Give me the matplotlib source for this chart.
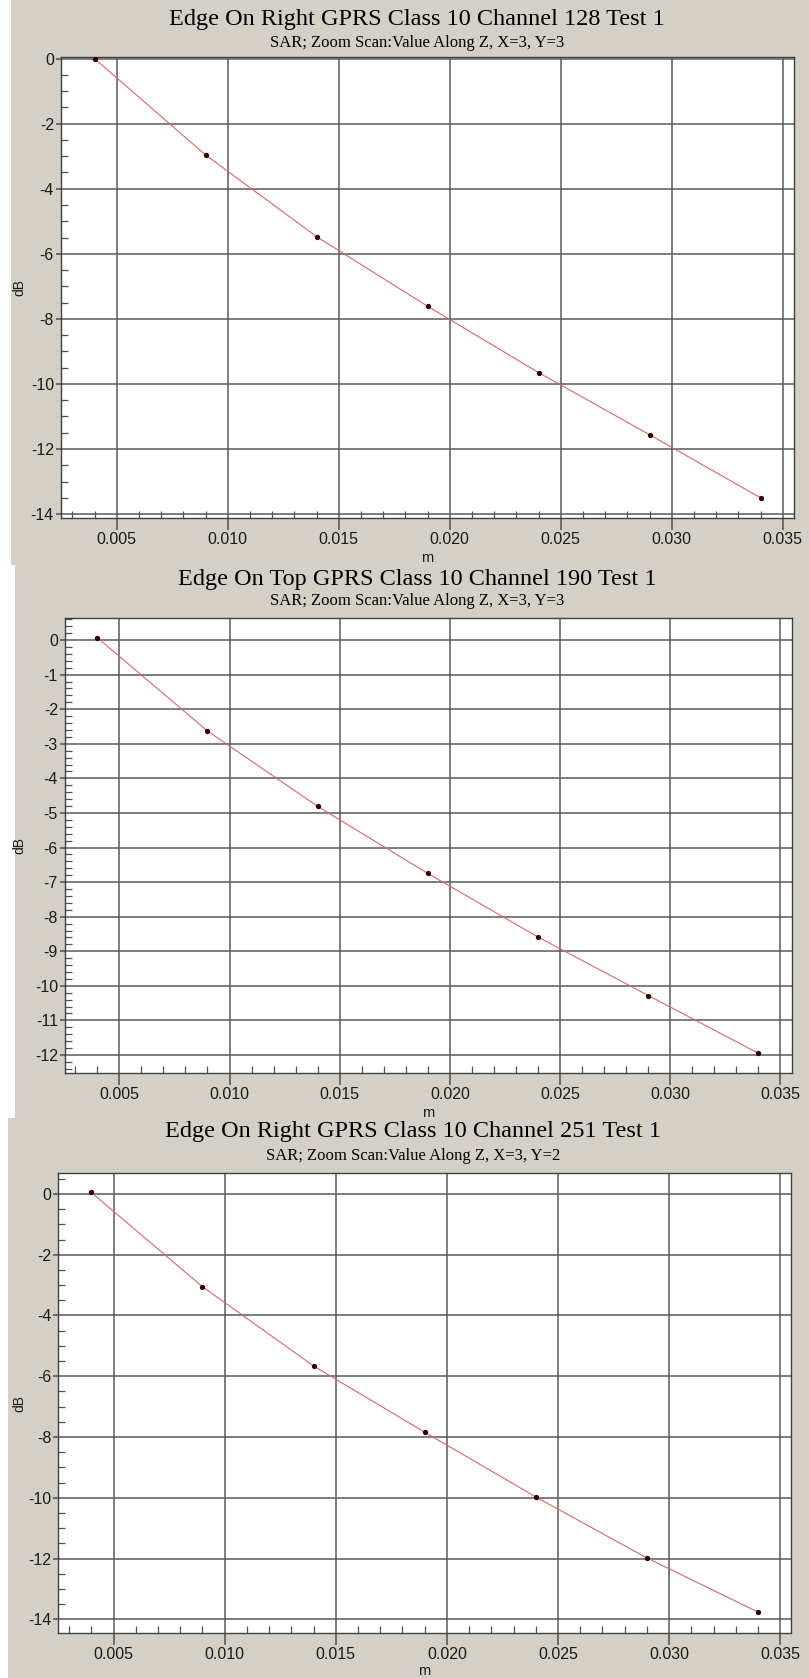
import matplotlib
matplotlib.use("Agg")
import matplotlib.pyplot as plt
from matplotlib.patches import Rectangle
from matplotlib.ticker import MultipleLocator, FormatStrFormatter

# data
depth = [0.004, 0.009, 0.014, 0.019, 0.024, 0.029, 0.034]
ch128 = [0.0, -2.96, -5.47, -7.61, -9.65, -11.56, -13.50]
ch190 = [0.07, -2.63, -4.81, -6.75, -8.59, -10.28, -11.95]
ch251 = [0.05, -3.05, -5.66, -7.84, -9.97, -11.98, -13.76]

titles = ["Edge On Right GPRS Class 10 Channel 128 Test 1",
          "Edge On Top GPRS Class 10 Channel 190 Test 1",
          "Edge On Right GPRS Class 10 Channel 251 Test 1"]
subtitles = ["SAR; Zoom Scan:Value Along Z, X=3, Y=3",
             "SAR; Zoom Scan:Value Along Z, X=3, Y=3",
             "SAR; Zoom Scan:Value Along Z, X=3, Y=2"]
xticks = [0.005, 0.010, 0.015, 0.020, 0.025, 0.030, 0.035]

W, H = 809, 1678
GRAY = "#d4d0c8"

fig = plt.figure(figsize=(W / 100, H / 100), dpi=100)
fig.patch.set_facecolor("white")


def fx(px):
    return px / W


def fy(py):
    return 1 - py / H


# panel layout in pixels: background box, axes box, text rows
panels = [
    dict(bg=(11, 0, 809, 565), ax=(61, 57, 794.3, 518), tx=417, ty=(19, 43),
         xl=558, ylim=(-14.12, 0.05), xlim=(0.00249, 0.03552), major=2, minor=0.5),
    dict(bg=(15, 565, 809, 1118), ax=(65, 618.3, 791.7, 1073.3), tx=417, ty=(579, 601),
         xl=1113, ylim=(-12.53, 0.63), xlim=(0.002534, 0.03551), major=1, minor=0.2),
    dict(bg=(8, 1118, 809, 1678), ax=(58.3, 1173.3, 790.5, 1633.3), tx=413, ty=(1132, 1156),
         xl=1671, ylim=(-14.46, 0.68), xlim=(0.002516, 0.035464), major=2, minor=0.5),
]
series = [ch128, ch190, ch251]

for i, p in enumerate(panels):
    x0, y0, x1, y1 = p["bg"]
    fig.patches.append(Rectangle((fx(x0), fy(y1)), fx(x1 - x0), (y1 - y0) / H,
                                 transform=fig.transFigure, facecolor=GRAY,
                                 edgecolor="none", zorder=-10))
    fig.text(fx(p["tx"]), fy(p["ty"][0]), titles[i], family="Liberation Serif",
             fontsize=17.5, ha="center", va="center", color="black")
    fig.text(fx(p["tx"]), fy(p["ty"][1]), subtitles[i], family="Liberation Serif",
             fontsize=12, ha="center", va="center", color="black")

    l, t, r, b = p["ax"]
    ax = fig.add_axes([fx(l), fy(b), fx(r - l), (b - t) / H])
    ax.set_zorder(5)
    ax.set_facecolor("white")
    ax.plot(depth, series[i], color="#d46a6a", lw=0.8, zorder=3)
    ax.plot(depth, series[i], ls="none", marker="o", ms=2.8, color="#300000", zorder=4)

    ax.set_xlim(*p["xlim"])
    ax.set_ylim(*p["ylim"])
    ax.set_xticks(xticks)
    ax.xaxis.set_major_formatter(FormatStrFormatter("%.3f"))
    ax.xaxis.set_minor_locator(MultipleLocator(0.001))
    ax.yaxis.set_major_locator(MultipleLocator(p["major"]))
    ax.yaxis.set_minor_locator(MultipleLocator(p["minor"]))
    ax.yaxis.set_major_formatter(FormatStrFormatter("%d"))

    ax.grid(True, which="major", color="#5a5a5a", lw=1.1, zorder=1)
    for s in ax.spines.values():
        s.set_color("#404040")
        s.set_linewidth(1.0)

    ax.tick_params(axis="x", which="major", direction="out", length=8.6, width=1.1,
                   color="#505050", pad=1.5, labelsize=11.5, labelcolor="#1a1a1a")
    ax.tick_params(axis="y", which="major", direction="out", length=3.6, width=1.1,
                   color="#505050", pad=1.5, labelsize=11.5, labelcolor="#1a1a1a")
    ax.tick_params(which="minor", direction="in", length=5, width=0.9, color="#505050")
    for lab in ax.get_xticklabels() + ax.get_yticklabels():
        lab.set_family("Liberation Sans")

    fig.text(fx(19), fy((t + b) / 2), "dB", rotation=90, family="Liberation Sans",
             fontsize=10, ha="center", va="center", color="#1a1a1a")
    fig.text(fx((l + r) / 2), fy(p["xl"]), "m", family="Liberation Sans",
             fontsize=10.5, ha="center", va="center", color="#1a1a1a")

fig.savefig("out.png", dpi=100, facecolor="white")
